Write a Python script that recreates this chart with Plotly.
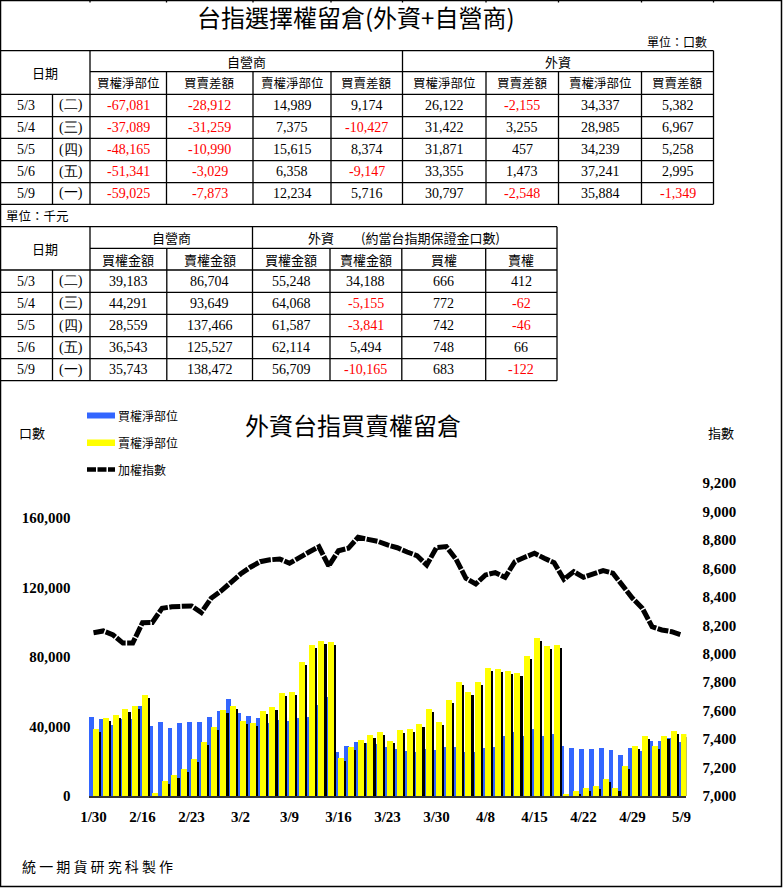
import plotly.graph_objects as go

W, H = 783, 888
CJK = "Noto Sans CJK TC"
SERIF = "Liberation Serif"

# ---------------- chart data ----------------
dates = ["1/30", "2/1", "2/2", "2/3", "2/15", "2/16", "2/17", "2/18", "2/19", "2/22",
         "2/23", "2/24", "2/25", "2/26", "3/1", "3/2", "3/3", "3/4", "3/7", "3/8",
         "3/9", "3/10", "3/11", "3/14", "3/15", "3/16", "3/17", "3/18", "3/21", "3/22",
         "3/23", "3/24", "3/25", "3/28", "3/29", "3/30", "3/31", "4/1", "4/6", "4/7",
         "4/8", "4/11", "4/12", "4/13", "4/14", "4/15", "4/18", "4/19", "4/20", "4/21",
         "4/22", "4/25", "4/26", "4/27", "4/28", "4/29", "5/3", "5/4", "5/5", "5/6", "5/9"]

call_net = [45600, 44100, 40800, 44100, 44300, 51900, 40400, 42300, 39300, 41800,
            42300, 42700, 45600, 49100, 55600, 47500, 46200, 44600, 41800, 43700,
            43100, 45000, 45600, 52100, 57100, 25500, 28900, 31200, 30300, 29700,
            28400, 27000, 26000, 25100, 27000, 26400, 28400, 28400, 25100, 25100,
            27400, 28400, 34700, 37000, 34700, 38300, 34700, 35400, 28900, 27400,
            26800, 26800, 27400, 26400, 23500, 27800, 26122, 31422, 31871, 33355, 30797]

put_net = [38300, 45000, 46600, 50000, 51900, 58100, 1500, 8600, 12000, 15700,
           21400, 31200, 39700, 49600, 51900, 43100, 41800, 49100, 51200, 59000,
           60000, 77300, 86900, 89200, 88800, 21600, 28000, 32200, 35100, 37000,
           31900, 38000, 38500, 41400, 50000, 42700, 55200, 65800, 60000, 65800,
           73800, 73000, 71900, 70900, 80700, 91100, 86500, 86900, 700, 2900,
           4400, 5900, 9600, 4400, 17400, 28900, 34337, 28985, 34239, 37241, 35884]

taiex = [8148, 8160, 8132, 8075, 8075, 8218, 8220, 8320, 8330, 8334,
         8336, 8290, 8390, 8440, 8500, 8560, 8608, 8647, 8660, 8666,
         8636, 8680, 8715, 8752, 8617, 8724, 8741, 8818, 8805, 8790,
         8765, 8745, 8715, 8690, 8624, 8746, 8753, 8664, 8530, 8490,
         8554, 8570, 8537, 8647, 8678, 8706, 8671, 8640, 8523, 8577,
         8537, 8561, 8584, 8566, 8472, 8390, 8320, 8190, 8167, 8155, 8132]

tick_labels = dates[::5]
left_ticks = [0, 40000, 80000, 120000, 160000]

# ---------------- table data ----------------
t_dates = ["5/3", "5/4", "5/5", "5/6", "5/9"]
t_weekdays = ["(二)", "(三)", "(四)", "(五)", "(一)"]

dealer_call_net = [-67081, -37089, -48165, -51341, -59025]
dealer_call_diff = [-28912, -31259, -10990, -3029, -7873]
dealer_put_net = [14989, 7375, 15615, 6358, 12234]
dealer_put_diff = [9174, -10427, 8374, -9147, 5716]
foreign_call_net = [26122, 31422, 31871, 33355, 30797]
foreign_call_diff = [-2155, 3255, 457, 1473, -2548]
foreign_put_net = [34337, 28985, 34239, 37241, 35884]
foreign_put_diff = [5382, 6967, 5258, 2995, -1349]

dealer_call_amt = [39183, 44291, 28559, 36543, 35743]
dealer_put_amt = [86704, 93649, 137466, 125527, 138472]
foreign_call_amt = [55248, 64068, 61587, 62114, 56709]
foreign_put_amt = [34188, -5155, -3841, 5494, -10165]
margin_call = [666, 772, 742, 748, 683]
margin_put = [412, -62, -46, 66, -122]

t1_sub = ["買權淨部位", "買賣差額", "賣權淨部位", "買賣差額",
          "買權淨部位", "買賣差額", "賣權淨部位", "買賣差額"]
t2_sub = ["買權金額", "賣權金額", "買權金額", "賣權金額", "買權", "賣權"]


def px(x):
    return x / W


def py(y):
    return 1 - y / H


shapes = []
annotations = []


def hline(y, x0, x1, w=1.3, color="black"):
    shapes.append(dict(type="line", xref="paper", yref="paper", x0=px(x0), x1=px(x1),
                       y0=py(y), y1=py(y), line=dict(color=color, width=w)))


def vline(x, y0, y1, w=1.3, color="black"):
    shapes.append(dict(type="line", xref="paper", yref="paper", x0=px(x), x1=px(x),
                       y0=py(y0), y1=py(y1), line=dict(color=color, width=w)))


def text(x, y, s, size=13, color="black", family=CJK, anchor="center", weight="normal"):
    annotations.append(dict(xref="paper", yref="paper", x=px(x), y=py(y), text=s,
                            showarrow=False, xanchor=anchor, yanchor="middle",
                            font=dict(size=size, color=color, family=family, weight=weight)))


def num(v):
    return f"{v:,}"


def col(v):
    return "#FF0000" if v < 0 else "black"


# ---------------- outer frame ----------------
shapes.append(dict(type="rect", xref="paper", yref="paper", x0=px(0.5), x1=px(781.5),
                   y0=py(0.5), y1=py(886.5), line=dict(color="black", width=1.5)))

# ---------------- table 1 ----------------
c1 = [0, 52.5, 90, 166.5, 253, 331, 402.5, 486, 558.5, 641.5, 713.5]
r1 = [50.7, 71.7, 94.3, 116.7, 138.3, 160.7, 182.7, 204.3]
for x in c1[2:]:
    vline(x, 0, 2.5)
text(356, 17, "台指選擇權留倉(外資+自營商)", size=24)
text(709, 41, "單位：口數", size=12, anchor="right")
hline(r1[0], 0, c1[-1])
hline(r1[1], c1[2], c1[-1])
for y in r1[2:]:
    hline(y, 0, c1[-1])
vline(c1[1], r1[2], r1[-1])
vline(c1[2], r1[0], r1[-1])
for x in [c1[3], c1[4], c1[5], c1[7], c1[8], c1[9]]:
    vline(x, r1[1], r1[-1])
vline(c1[6], r1[0], r1[-1])
vline(c1[10], r1[0], r1[-1])
text(45, (r1[0] + r1[2]) / 2, "日期", size=13)
text((c1[2] + c1[6]) / 2, (r1[0] + r1[1]) / 2, "自營商", size=13)
text((c1[6] + c1[10]) / 2, (r1[0] + r1[1]) / 2, "外資", size=13)
for k, s in enumerate(t1_sub):
    text((c1[2 + k] + c1[3 + k]) / 2, (r1[1] + r1[2]) / 2, s, size=12.5)
t1_cols = [dealer_call_net, dealer_call_diff, dealer_put_net, dealer_put_diff,
           foreign_call_net, foreign_call_diff, foreign_put_net, foreign_put_diff]
for r in range(5):
    yc = (r1[2 + r] + r1[3 + r]) / 2
    text((c1[0] + c1[1]) / 2, yc, t_dates[r], size=14, family=SERIF)
    text((c1[1] + c1[2]) / 2, yc, t_weekdays[r], size=14, family=SERIF)
    for k, series in enumerate(t1_cols):
        v = series[r]
        text((c1[2 + k] + c1[3 + k]) / 2, yc, num(v), size=14, family=SERIF, color=col(v))

# ---------------- table 2 ----------------
text(4, 215, "單位：千元", size=12.5, anchor="left")
c2 = [0, 52.5, 90, 166.8, 252.5, 330, 401.8, 485.7, 557]
r2 = [226.7, 248.3, 270, 292.3, 314.3, 336.7, 358.7, 380.7]
hline(r2[0], 0, c2[-1])
hline(r2[1], c2[2], c2[-1])
for y in r2[2:]:
    hline(y, 0, c2[-1])
vline(c2[1], r2[2], r2[-1])
vline(c2[2], r2[0], r2[-1])
for x in [c2[3], c2[5], c2[6], c2[7]]:
    vline(x, r2[1], r2[-1])
vline(c2[4], r2[0], r2[-1])
vline(c2[8], r2[0], r2[-1])
text(45, (r2[0] + r2[2]) / 2, "日期", size=13)
text((c2[2] + c2[4]) / 2, (r2[0] + r2[1]) / 2, "自營商", size=13)
text(321, (r2[0] + r2[1]) / 2, "外資", size=13)
text(430, (r2[0] + r2[1]) / 2, "(約當台指期保證金口數)", size=13)
for k, s in enumerate(t2_sub):
    text((c2[2 + k] + c2[3 + k]) / 2, (r2[1] + r2[2]) / 2, s, size=13)
t2_cols = [dealer_call_amt, dealer_put_amt, foreign_call_amt, foreign_put_amt,
           margin_call, margin_put]
for r in range(5):
    yc = (r2[2 + r] + r2[3 + r]) / 2
    text((c2[0] + c2[1]) / 2, yc, t_dates[r], size=14, family=SERIF)
    text((c2[1] + c2[2]) / 2, yc, t_weekdays[r], size=14, family=SERIF)
    for k, series in enumerate(t2_cols):
        v = series[r]
        text((c2[2 + k] + c2[3 + k]) / 2, yc, num(v), size=14, family=SERIF, color=col(v))

# ---------------- chart texts & legend ----------------
text(353, 424, "外資台指買賣權留倉", size=24)
text(32, 432, "口數", size=13)
text(721, 432, "指數", size=13)
BLUE = "#3366FF"
YELLOW = "#FFFF00"
shapes.append(dict(type="rect", xref="paper", yref="paper", x0=px(87), x1=px(115),
                   y0=py(418.5), y1=py(412.5), fillcolor=BLUE, line=dict(width=0)))
shapes.append(dict(type="rect", xref="paper", yref="paper", x0=px(87), x1=px(115),
                   y0=py(446), y1=py(439.5), fillcolor=YELLOW, line=dict(width=0)))
shapes.append(dict(type="line", xref="paper", yref="paper", x0=px(87), x1=px(115),
                   y0=py(469.5), y1=py(469.5),
                   line=dict(color="black", width=4.5, dash="9px,1.5px")))
text(116, 415.5, "買權淨部位", size=12, anchor="left")
text(116, 442.5, "賣權淨部位", size=12, anchor="left")
text(116, 469.5, "加權指數", size=12, anchor="left")
text(20, 866, "統 一 期 貨 研 究 科 製 作", size=14, anchor="left")

# ---------------- traces ----------------
fig = go.Figure()
fig.add_trace(go.Bar(x=dates, y=call_net, name="買權淨部位", marker=dict(color=BLUE, line=dict(width=0)),
                     offset=-0.48, width=0.48))
fig.add_trace(go.Bar(x=dates, y=put_net, base=-1700, name="shadow",
                     marker=dict(color="black", line=dict(width=0)),
                     offset=0.12, width=0.62, hoverinfo="skip"))
fig.add_trace(go.Bar(x=dates, y=put_net, name="賣權淨部位", marker=dict(color=YELLOW, line=dict(width=0)),
                     offset=-0.1, width=0.62))
fig.add_trace(go.Scatter(x=dates, y=taiex, name="加權指數", yaxis="y2", mode="lines",
                         line=dict(color="black", width=5, dash="11px,1.5px")))

tick_font = dict(family=SERIF, size=15, color="black", weight="bold")
fig.update_layout(
    width=W, height=H, margin=dict(l=0, r=0, t=0, b=0),
    paper_bgcolor="white", plot_bgcolor="white",
    showlegend=False, barmode="overlay", bargap=0,
    xaxis=dict(domain=[px(88.6), px(686.4)], type="category", categoryorder="array",
               categoryarray=dates, range=[-0.5, 60.5], tickmode="array",
               tickvals=tick_labels, ticktext=tick_labels, ticks="", showgrid=False,
               showline=True, linecolor="#333333", linewidth=2, zeroline=False,
               tickfont=tick_font, automargin=False, ticklabelstandoff=6),
    yaxis=dict(domain=[py(796), py(483)], range=[0, 180000], tickmode="array",
               tickvals=left_ticks, tickformat=",", ticks="", showgrid=False,
               showline=False, zeroline=False, tickfont=tick_font, automargin=False,
               ticklabelstandoff=17),
    yaxis2=dict(overlaying="y", side="right", range=[7000, 9200], dtick=200,
                tick0=7000, tickformat=",", ticks="", showgrid=False, showline=False,
                zeroline=False, tickfont=tick_font, automargin=False,
                ticklabelstandoff=15),
    shapes=shapes, annotations=annotations,
)

fig.write_html("out.html")
